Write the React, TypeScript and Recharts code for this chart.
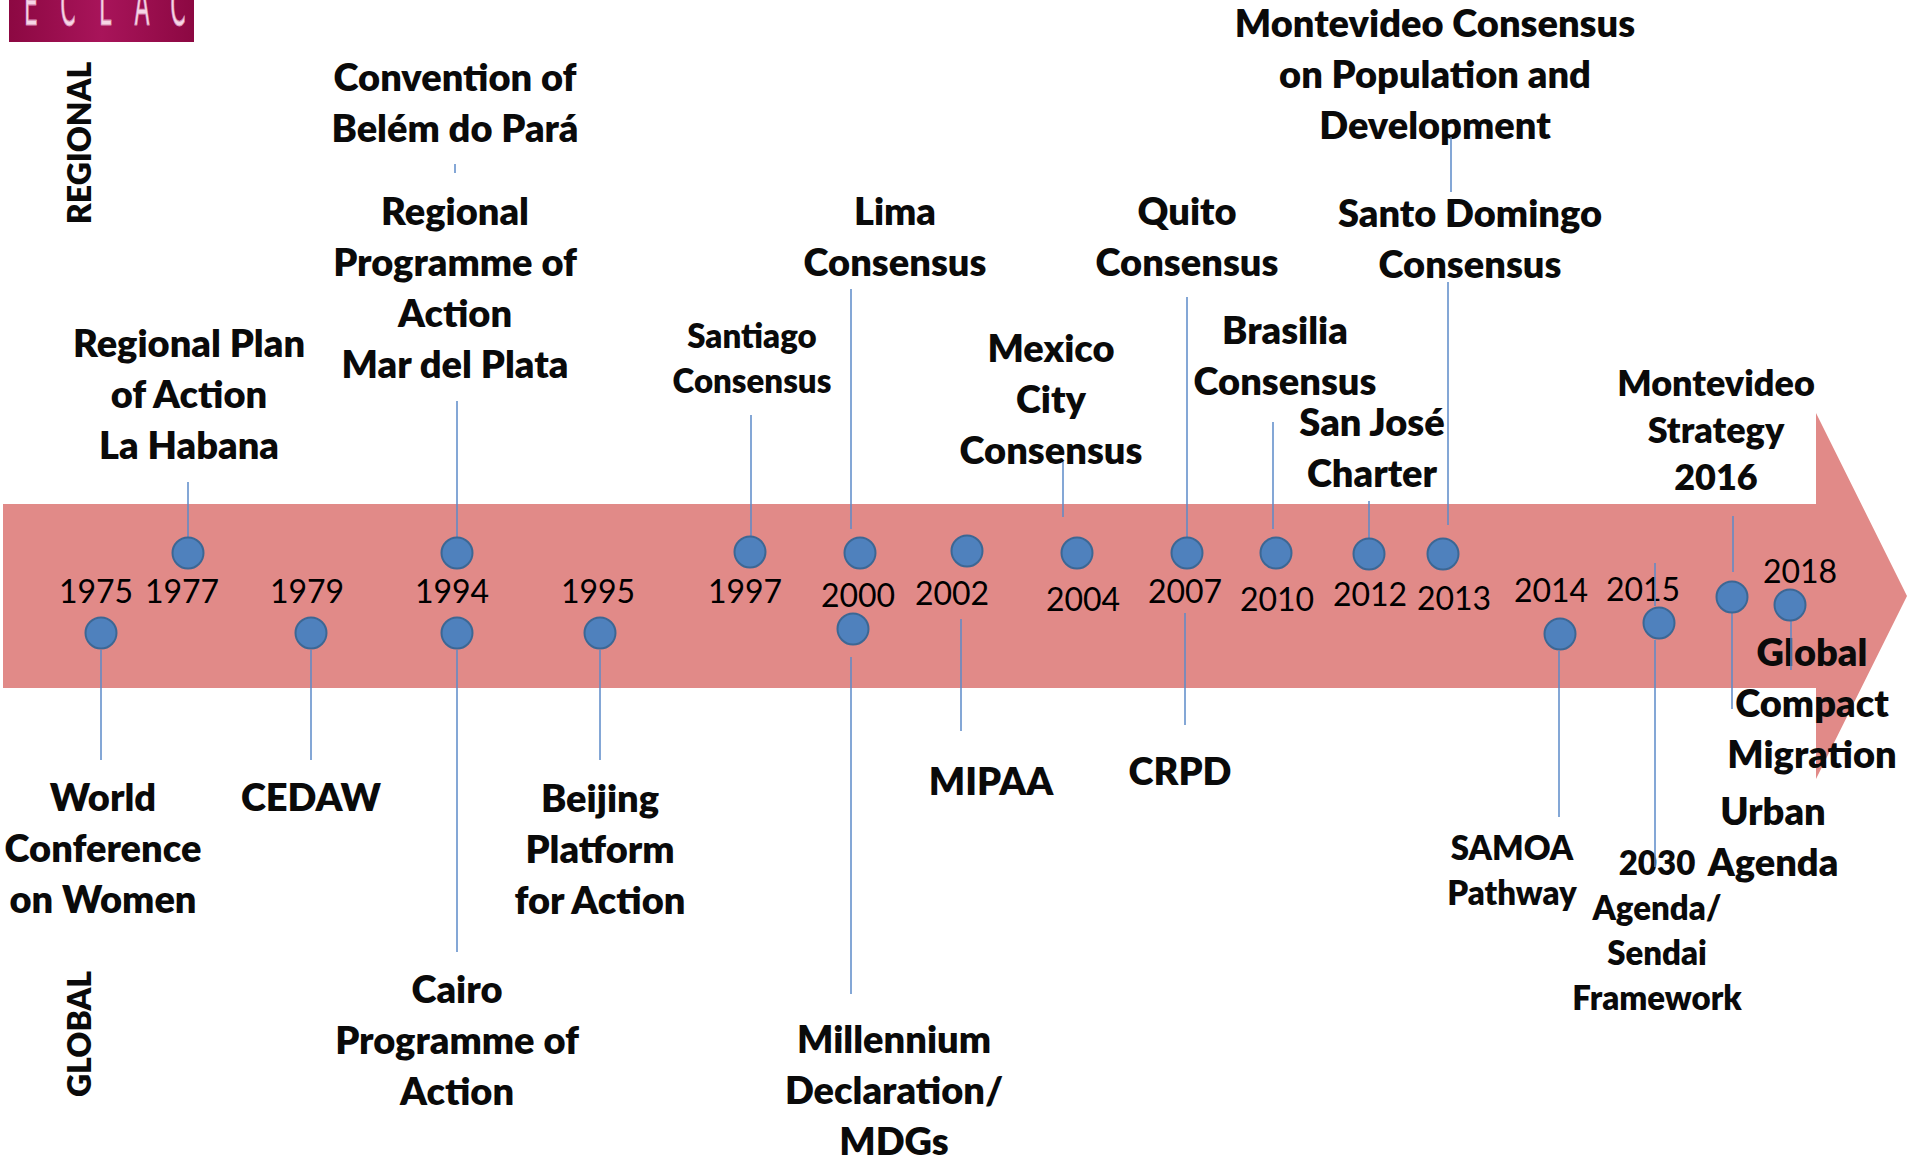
import React from 'react';
import { ComposedChart, XAxis, YAxis, Area, Scatter, ReferenceArea } from 'recharts';

const W = 1907;
const H = 1158;

// ---- arrow outline (timeline band) ----
const arrowX = [3, 1816, 1816, 1907];
const arrowTop = [504, 504, 413, 596];
const arrowBottom = [688, 688, 779, 596];

// ---- event markers ----
const markerYears = ['1975', '1977', '1979', '1994', '1994', '1995', '1997', '2000', '2000', '2002', '2004', '2007', '2010', '2012', '2013', '2014', '2015', '2016', '2018'];
const markerX = [101, 188, 311, 457, 457, 600, 750, 860, 853, 967, 1077, 1187, 1276, 1369, 1443, 1560, 1659, 1732, 1790];
const markerY = [633, 553, 633, 553, 633, 633, 552, 553, 629, 551, 553, 553, 553, 554, 554, 634, 623, 597, 605];

// ---- year labels ----
const yearLabels = ['1975', '1977', '1979', '1994', '1995', '1997', '2000', '2002', '2004', '2007', '2010', '2012', '2013', '2014', '2015', '2018'];
const yearX = [96, 182, 307, 452, 598, 745, 858, 952, 1083, 1185, 1277, 1370, 1454, 1551, 1643, 1800];
const yearY = [603, 603, 603, 603, 603, 603, 607, 605, 611, 603, 611, 606, 610, 602, 601, 583];

// ---- regional instruments (above the band) ----
const regionalTexts = [
  ['Convention of', 'Belém do Pará'],
  ['Regional', 'Programme of', 'Action', 'Mar del Plata'],
  ['Regional Plan', 'of Action', 'La Habana'],
  ['Santiago', 'Consensus'],
  ['Lima', 'Consensus'],
  ['Mexico', 'City', 'Consensus'],
  ['Quito', 'Consensus'],
  ['Montevideo Consensus', 'on Population and', 'Development'],
  ['Santo Domingo', 'Consensus'],
  ['Brasilia', 'Consensus'],
  ['San José', 'Charter'],
  ['Montevideo', 'Strategy', '2016'],
];
const regionalX = [455, 455, 189, 752, 895, 1051, 1187, 1435, 1470, 1285, 1372, 1716];
const regionalY = [91, 225, 357, 348, 225, 362, 225, 37, 227, 344, 436, 396];
const regionalKind = ['main', 'main', 'main', 'small', 'main', 'main', 'main', 'main', 'main', 'main', 'main', 'mid'];

// ---- global instruments (below the band) ----
const globalTexts = [
  ['World', 'Conference', 'on Women'],
  ['CEDAW'],
  ['Beijing', 'Platform', 'for Action'],
  ['Cairo', 'Programme of', 'Action'],
  ['Millennium', 'Declaration/', 'MDGs'],
  ['MIPAA'],
  ['CRPD'],
  ['SAMOA', 'Pathway'],
  ['2030', 'Agenda/', 'Sendai', 'Framework'],
  ['Urban', 'Agenda'],
  ['Global', 'Compact', 'Migration'],
];
const globalX = [103, 311, 600, 457, 894, 991, 1180, 1512, 1657, 1773, 1812];
const globalY = [811, 811, 812, 1003, 1053, 795, 785, 860, 875, 825, 666];
const globalKind = ['main', 'main', 'main', 'main', 'main', 'main', 'main', 'small', 'small', 'main', 'main'];

// ---- connector lines ----
const connX = [188, 457, 455, 751, 851, 1063, 1187, 1273, 1369, 1448, 1451, 1733, 1791, 101, 311, 457, 600, 851, 961, 1185, 1559, 1655, 1655, 1732];
const connY1 = [482, 401, 164, 415, 289, 462, 297, 422, 501, 282, 137, 516, 620, 650, 650, 650, 650, 657, 619, 613, 651, 563, 640, 613];
const connY2 = [537, 537, 173, 536, 529, 517, 537, 529, 538, 525, 192, 572, 670, 760, 760, 952, 760, 994, 731, 725, 817, 606, 867, 709];

// ---- side headings and logo ----
const sideTexts = ['REGIONAL', 'GLOBAL'];
const sideX = [80, 80];
const sideY = [143, 1034];
const logoLetters = ['E', 'C', 'L', 'A', 'C'];
const logoX = [31, 68, 105, 142, 178];
const logoY = [25, 25, 25, 25, 25];

const arrowData = arrowX.map((x, i) => ({ x, low: arrowTop[i], high: arrowBottom[i] }));
const markerData = markerX.map((x, i) => ({ x, y: markerY[i], year: markerYears[i] }));
const yearData = yearLabels.map((label, i) => ({ x: yearX[i], y: yearY[i], label }));
const labelData = [
  ...regionalTexts.map((lines, i) => ({ x: regionalX[i], y: regionalY[i], lines, kind: regionalKind[i] })),
  ...globalTexts.map((lines, i) => ({ x: globalX[i], y: globalY[i], lines, kind: globalKind[i] })),
];
const sideData = sideTexts.map((t, i) => ({ x: sideX[i], y: sideY[i], t }));
const logoData = logoLetters.map((t, i) => ({ x: logoX[i], y: logoY[i], t }));
const connectors = connX.map((x, i) => [
  { x, y: connY1[i] },
  { x, y: connY2[i] },
]);

const FONT = "Lato, 'Open Sans', sans-serif";
const KIND: Record<string, { size: number; lh: number }> = {
  main: { size: 38, lh: 51 },
  mid: { size: 36, lh: 47 },
  small: { size: 33, lh: 45 },
};

const pl = (props: any) => props.payload ?? props;

const MarkerShape = (props: any) => (
  <circle cx={props.cx} cy={props.cy} r={15.5} fill="#4F81BD" stroke="#3C6794" strokeWidth={2} />
);

const YearShape = (props: any) => (
  <text x={props.cx} y={props.cy} textAnchor="middle" fontFamily={FONT} fontSize={32} fill="#000">
    {pl(props).label}
  </text>
);

const LabelShape = (props: any) => {
  const p = pl(props);
  const k = KIND[p.kind];
  return (
    <text x={props.cx} y={props.cy} textAnchor="middle" fontFamily={FONT} fontWeight={800} fontSize={k.size} fill="#0a0a0a">
      {p.lines.map((l: string, i: number) => (
        <tspan key={i} x={props.cx} y={props.cy + i * k.lh}>
          {l}
        </tspan>
      ))}
    </text>
  );
};

const SideShape = (props: any) => (
  <text
    x={props.cx}
    y={props.cy + 11}
    transform={`rotate(-90 ${props.cx} ${props.cy})`}
    textAnchor="middle"
    fontFamily={FONT}
    fontWeight={800}
    fontSize={32}
    fill="#0a0a0a"
  >
    {pl(props).t}
  </text>
);

const LogoShape = (props: any) => (
  <g transform={`translate(${props.cx} ${props.cy}) scale(0.5 1.35)`}>
    <text x={0} y={0} textAnchor="middle" fontFamily="'DejaVu Sans', sans-serif" fontSize={44} fill="#f6d6e6" stroke="#d98fb4" strokeWidth={0.8}>
      {pl(props).t}
    </text>
  </g>
);

const NoShape = () => <g />;

export default function App() {
  return (
    <div style={{ position: 'absolute', left: 0, top: 0, width: W, height: H, background: '#ffffff' }}>
      <ComposedChart width={W} height={H} margin={{ top: 0, right: 0, bottom: 0, left: 0 }}>
        <defs>
          <linearGradient id="logoGrad" x1="0" y1="0" x2="1" y2="0">
            <stop offset="0%" stopColor="#8c0842" />
            <stop offset="50%" stopColor="#a8145a" />
            <stop offset="100%" stopColor="#8c0842" />
          </linearGradient>
        </defs>
        <XAxis type="number" dataKey="x" domain={[0, W]} hide allowDataOverflow />
        <YAxis type="number" dataKey="y" domain={[0, H]} reversed hide allowDataOverflow />
        <ReferenceArea x1={9} x2={194} y1={0} y2={42} fill="url(#logoGrad)" fillOpacity={1} stroke="none" ifOverflow="visible" />
        <Scatter data={logoData} shape={LogoShape} isAnimationActive={false} />
        <Area
          data={arrowData}
          dataKey={(d: any) => [d.low, d.high]}
          type="linear"
          fill="#E18A88"
          fillOpacity={1}
          stroke="none"
          dot={false}
          activeDot={false}
          isAnimationActive={false}
        />
        <Scatter data={sideData} shape={SideShape} isAnimationActive={false} />
        <Scatter data={yearData} shape={YearShape} isAnimationActive={false} />
        <Scatter data={labelData} shape={LabelShape} isAnimationActive={false} />
        {connectors.map((seg, i) => (
          <Scatter
            key={`c${i}`}
            data={seg}
            line={{ stroke: '#5B8AC9', strokeWidth: 1.5 }}
            shape={NoShape}
            isAnimationActive={false}
          />
        ))}
        <Scatter data={markerData} shape={MarkerShape} isAnimationActive={false} />
      </ComposedChart>
    </div>
  );
}
